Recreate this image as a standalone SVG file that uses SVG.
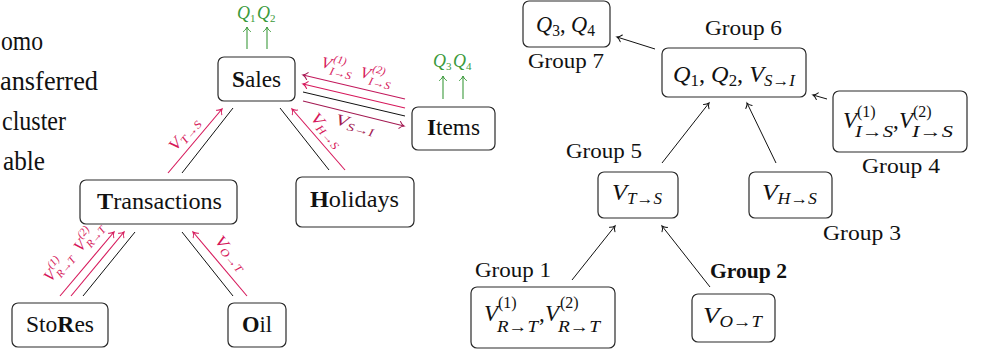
<svg xmlns="http://www.w3.org/2000/svg" width="998" height="354" viewBox="0 0 998 354">
<style>
.bx{fill:#fff;stroke:#2a2a2a;stroke-width:1.2}
.t{font-family:"Liberation Serif","DejaVu Serif",serif;font-size:23px;fill:#111}
.lg-t{font-family:"Liberation Serif","DejaVu Serif",serif;font-size:28px;fill:#111}
.g{font-family:"Liberation Serif","DejaVu Serif",serif;font-size:22px;fill:#111}
.m{font-family:"Liberation Serif","DejaVu Serif",serif;font-size:23px;fill:#111}
.i{font-style:italic}
.s{font-size:16px}
.lk{stroke:#111;stroke-width:1;fill:none}
.lr{stroke:#d6175a;stroke-width:1.1;fill:none}
.ld{stroke:#a31a52;stroke-width:1.1;fill:none}
.lg{stroke:#3b9a3b;stroke-width:1.1;fill:none}
.ml{font-family:"Liberation Serif","DejaVu Serif",serif;font-size:16px;font-style:italic}
.ms{font-size:11px}
.qg{font-family:"Liberation Serif","DejaVu Serif",serif;font-size:18px;font-style:italic;fill:#3b9a3b}
.cr{fill:#d6175a}
.cd{fill:#a31a52}
.cg{fill:#3b9a3b}
</style>
<defs>
<marker id="ak" viewBox="-6 -5 8 10" refX="0" refY="0" markerWidth="8" markerHeight="10" markerUnits="userSpaceOnUse" orient="auto"><path d="M-4.5,-3.5 C-3,-1.5 -1,-0.3 0,0 C-1,0.3 -3,1.5 -4.5,3.5" fill="none" stroke="#111" stroke-width="1" stroke-linecap="round"/></marker>
<marker id="ar" viewBox="-6 -5 8 10" refX="0" refY="0" markerWidth="8" markerHeight="10" markerUnits="userSpaceOnUse" orient="auto"><path d="M-4.5,-3.5 C-3,-1.5 -1,-0.3 0,0 C-1,0.3 -3,1.5 -4.5,3.5" fill="none" stroke="#d6175a" stroke-width="1" stroke-linecap="round"/></marker>
<marker id="ad" viewBox="-6 -5 8 10" refX="0" refY="0" markerWidth="8" markerHeight="10" markerUnits="userSpaceOnUse" orient="auto"><path d="M-4.5,-3.5 C-3,-1.5 -1,-0.3 0,0 C-1,0.3 -3,1.5 -4.5,3.5" fill="none" stroke="#a31a52" stroke-width="1" stroke-linecap="round"/></marker>
<marker id="ag" viewBox="-6 -5 8 10" refX="0" refY="0" markerWidth="8" markerHeight="10" markerUnits="userSpaceOnUse" orient="auto"><path d="M-4.5,-3.5 C-3,-1.5 -1,-0.3 0,0 C-1,0.3 -3,1.5 -4.5,3.5" fill="none" stroke="#3b9a3b" stroke-width="1" stroke-linecap="round"/></marker>
</defs>
<rect width="998" height="354" fill="#fff"/>

<g id="legend">
<text class="lg-t" x="1" y="50" textLength="42" lengthAdjust="spacingAndGlyphs">omo</text>
<text class="lg-t" x="0" y="90" textLength="98" lengthAdjust="spacingAndGlyphs">ansferred</text>
<text class="lg-t" x="2" y="130" textLength="64" lengthAdjust="spacingAndGlyphs">cluster</text>
<text class="lg-t" x="3" y="170" textLength="42" lengthAdjust="spacingAndGlyphs">able</text>
</g>

<g id="connectors">
<line class="lg" x1="247" y1="49" x2="247" y2="27" marker-end="url(#ag)"/>
<line class="lg" x1="267" y1="49" x2="267" y2="27" marker-end="url(#ag)"/>
<line class="lg" x1="443" y1="99" x2="443" y2="76" marker-end="url(#ag)"/>
<line class="lg" x1="463" y1="99" x2="463" y2="76" marker-end="url(#ag)"/>
<line class="ld" x1="405" y1="99" x2="303" y2="75" marker-end="url(#ad)" style="stroke:#c2185b"/>
<line class="lr" x1="405" y1="108" x2="303" y2="84" marker-end="url(#ar)"/>
<line class="lk" x1="303" y1="92" x2="405" y2="116"/>
<line class="ld" x1="303" y1="101" x2="404" y2="126" marker-end="url(#ad)"/>
<line class="lr" x1="168" y1="173" x2="222" y2="109" marker-end="url(#ar)"/>
<line class="lk" x1="182" y1="173" x2="233" y2="108"/>
<line class="lk" x1="280" y1="108" x2="329" y2="170"/>
<line class="lr" x1="345" y1="170" x2="292" y2="109" marker-end="url(#ar)"/>
<line class="lr" x1="60" y1="296" x2="114" y2="232" marker-end="url(#ar)"/>
<line class="lr" x1="71" y1="296" x2="124" y2="232" marker-end="url(#ar)"/>
<line class="lk" x1="83" y1="296" x2="135" y2="232"/>
<line class="lk" x1="182" y1="232" x2="233" y2="296"/>
<line class="lr" x1="247" y1="296" x2="193" y2="232" marker-end="url(#ar)"/>
<line class="lk" x1="655" y1="49" x2="617" y2="37" marker-end="url(#ak)"/>
<line class="lk" x1="827" y1="99" x2="813" y2="95" marker-end="url(#ak)"/>
<line class="lk" x1="662" y1="163" x2="709" y2="103" marker-end="url(#ak)"/>
<line class="lk" x1="776" y1="163" x2="747" y2="103" marker-end="url(#ak)"/>
<line class="lk" x1="572" y1="280" x2="615" y2="226" marker-end="url(#ak)"/>
<line class="lk" x1="710" y1="287" x2="662" y2="226" marker-end="url(#ak)"/>
</g>

<g id="edge-labels">
<text class="qg" x="237" y="19">Q<tspan class="ms" dy="3" font-style="normal">1</tspan></text>
<text class="qg" x="257" y="19">Q<tspan class="ms" dy="3" font-style="normal">2</tspan></text>
<text class="qg" x="433" y="67">Q<tspan class="ms" dy="3" font-style="normal">3</tspan></text>
<text class="qg" x="453" y="67">Q<tspan class="ms" dy="3" font-style="normal">4</tspan></text>
<g transform="translate(184,134) rotate(-50)"><text class="ml cr" x="-19" y="5" textLength="38" lengthAdjust="spacingAndGlyphs">V<tspan class="ms" dy="3">T→S</tspan></text></g>
<g transform="translate(327,130) rotate(49)"><text class="ml cr" x="-20" y="5" textLength="40" lengthAdjust="spacingAndGlyphs">V<tspan class="ms" dy="3">H→S</tspan></text></g>
<g transform="translate(231,253) rotate(50)"><text class="ml cr" x="-20" y="5" textLength="40" lengthAdjust="spacingAndGlyphs">V<tspan class="ms" dy="3">O→T</tspan></text></g>
<g transform="translate(355,124) rotate(14)"><text class="ml cd" x="-20" y="5" textLength="40" lengthAdjust="spacingAndGlyphs">V<tspan class="ms" dy="3">S→I</tspan></text></g>
<g transform="translate(337,67) rotate(14)"><text class="ml cr" x="-16" y="4">V</text><text class="ml cr ms" x="-5" y="-4">(1)</text><text class="ml cr ms" x="-6" y="9" textLength="22" lengthAdjust="spacingAndGlyphs">I→S</text></g>
<g transform="translate(376,77) rotate(14)"><text class="ml cr" x="-16" y="4">V</text><text class="ml cr ms" x="-5" y="-4">(2)</text><text class="ml cr ms" x="-6" y="9" textLength="22" lengthAdjust="spacingAndGlyphs">I→S</text></g>
<g transform="translate(58,268) rotate(-50)"><text class="ml cr" x="-16" y="4">V</text><text class="ml cr ms" x="-5" y="-4" font-style="normal">(1)</text><text class="ml cr ms" x="-6" y="9" textLength="24" lengthAdjust="spacingAndGlyphs">R→T</text></g>
<g transform="translate(88,238) rotate(-50)"><text class="ml cr" x="-16" y="4">V</text><text class="ml cr ms" x="-5" y="-4" font-style="normal">(2)</text><text class="ml cr ms" x="-6" y="9" textLength="24" lengthAdjust="spacingAndGlyphs">R→T</text></g>
</g>

<g id="sales"><rect class="bx" x="218" y="57" width="77" height="44" rx="6"/><text class="t" x="232" y="87" textLength="49" lengthAdjust="spacingAndGlyphs"><tspan font-weight="bold">S</tspan>ales</text></g>
<g id="items"><rect class="bx" x="412" y="107" width="83" height="43" rx="6"/><text class="t" x="427" y="135" textLength="53" lengthAdjust="spacingAndGlyphs"><tspan font-weight="bold">I</tspan>tems</text></g>
<g id="transactions"><rect class="bx" x="80" y="180" width="157" height="44" rx="6"/><text class="t" x="97" y="209" textLength="125" lengthAdjust="spacingAndGlyphs"><tspan font-weight="bold">T</tspan>ransactions</text></g>
<g id="holidays"><rect class="bx" x="296" y="177" width="118" height="50" rx="6"/><text class="t" x="310" y="207" textLength="89" lengthAdjust="spacingAndGlyphs"><tspan font-weight="bold">H</tspan>olidays</text></g>
<g id="stores"><rect class="bx" x="12" y="303" width="96" height="44" rx="6"/><text class="t" x="26" y="332" textLength="68" lengthAdjust="spacingAndGlyphs">Sto<tspan font-weight="bold">R</tspan>es</text></g>
<g id="oil"><rect class="bx" x="228" y="303" width="58" height="44" rx="6"/><text class="t" x="242" y="332" textLength="30" lengthAdjust="spacingAndGlyphs"><tspan font-weight="bold">O</tspan>il</text></g>

<g id="group7"><rect class="bx" x="523" y="1" width="87" height="46" rx="6"/><text class="m" x="536" y="32" textLength="59" lengthAdjust="spacingAndGlyphs"><tspan class="i">Q</tspan><tspan class="s" dy="4">3</tspan><tspan dy="-4">, </tspan><tspan class="i">Q</tspan><tspan class="s" dy="4">4</tspan></text><text class="g" x="528" y="68" textLength="76" lengthAdjust="spacingAndGlyphs">Group 7</text></g>
<g id="group6"><rect class="bx" x="662" y="48" width="144" height="49" rx="6"/><text class="m" x="673" y="82" textLength="122" lengthAdjust="spacingAndGlyphs"><tspan class="i">Q</tspan><tspan class="s" dy="4">1</tspan><tspan dy="-4">, </tspan><tspan class="i">Q</tspan><tspan class="s" dy="4">2</tspan><tspan dy="-4">, </tspan><tspan class="i">V</tspan><tspan class="s i" dy="4">S→I</tspan></text><text class="g" x="705" y="35" textLength="77" lengthAdjust="spacingAndGlyphs">Group 6</text></g>
<g id="group4"><rect class="bx" x="833" y="91" width="134" height="61" rx="6"/><text class="m i" x="843" y="128">V</text><text class="m s" x="857" y="117">(1)</text><text class="m s i" x="855" y="137" textLength="38" lengthAdjust="spacingAndGlyphs">I→S</text><text class="m" x="893" y="128">,</text><text class="m i" x="899" y="128">V</text><text class="m s" x="913" y="117">(2)</text><text class="m s i" x="912" y="137" textLength="41" lengthAdjust="spacingAndGlyphs">I→S</text><text class="g" x="862" y="173" textLength="78" lengthAdjust="spacingAndGlyphs">Group 4</text></g>
<g id="group5"><rect class="bx" x="598" y="172" width="80" height="46" rx="6"/><text class="m" x="612" y="200" textLength="50" lengthAdjust="spacingAndGlyphs"><tspan class="i">V</tspan><tspan class="s i" dy="4">T→S</tspan></text><text class="g" x="566" y="158" textLength="76" lengthAdjust="spacingAndGlyphs">Group 5</text></g>
<g id="group3"><rect class="bx" x="749" y="172" width="83" height="46" rx="6"/><text class="m" x="762" y="200" textLength="55" lengthAdjust="spacingAndGlyphs"><tspan class="i">V</tspan><tspan class="s i" dy="4">H→S</tspan></text><text class="g" x="823" y="240" textLength="78" lengthAdjust="spacingAndGlyphs">Group 3</text></g>
<g id="group1"><rect class="bx" x="471" y="287" width="144" height="61" rx="6"/><text class="m i" x="484" y="321">V</text><text class="m s" x="498" y="308">(1)</text><text class="m s i" x="497" y="332" textLength="41" lengthAdjust="spacingAndGlyphs">R→T</text><text class="m" x="539" y="321">,</text><text class="m i" x="545" y="321">V</text><text class="m s" x="560" y="308">(2)</text><text class="m s i" x="558" y="332" textLength="42" lengthAdjust="spacingAndGlyphs">R→T</text><text class="g" x="475" y="277" textLength="76" lengthAdjust="spacingAndGlyphs">Group 1</text></g>
<g id="group2"><rect class="bx" x="692" y="294" width="83" height="48" rx="6"/><text class="m" x="703" y="323" textLength="59" lengthAdjust="spacingAndGlyphs"><tspan class="i">V</tspan><tspan class="s i" dy="4">O→T</tspan></text><text class="g" x="710" y="278" font-weight="bold" textLength="77" lengthAdjust="spacingAndGlyphs">Group 2</text></g>
</svg>
